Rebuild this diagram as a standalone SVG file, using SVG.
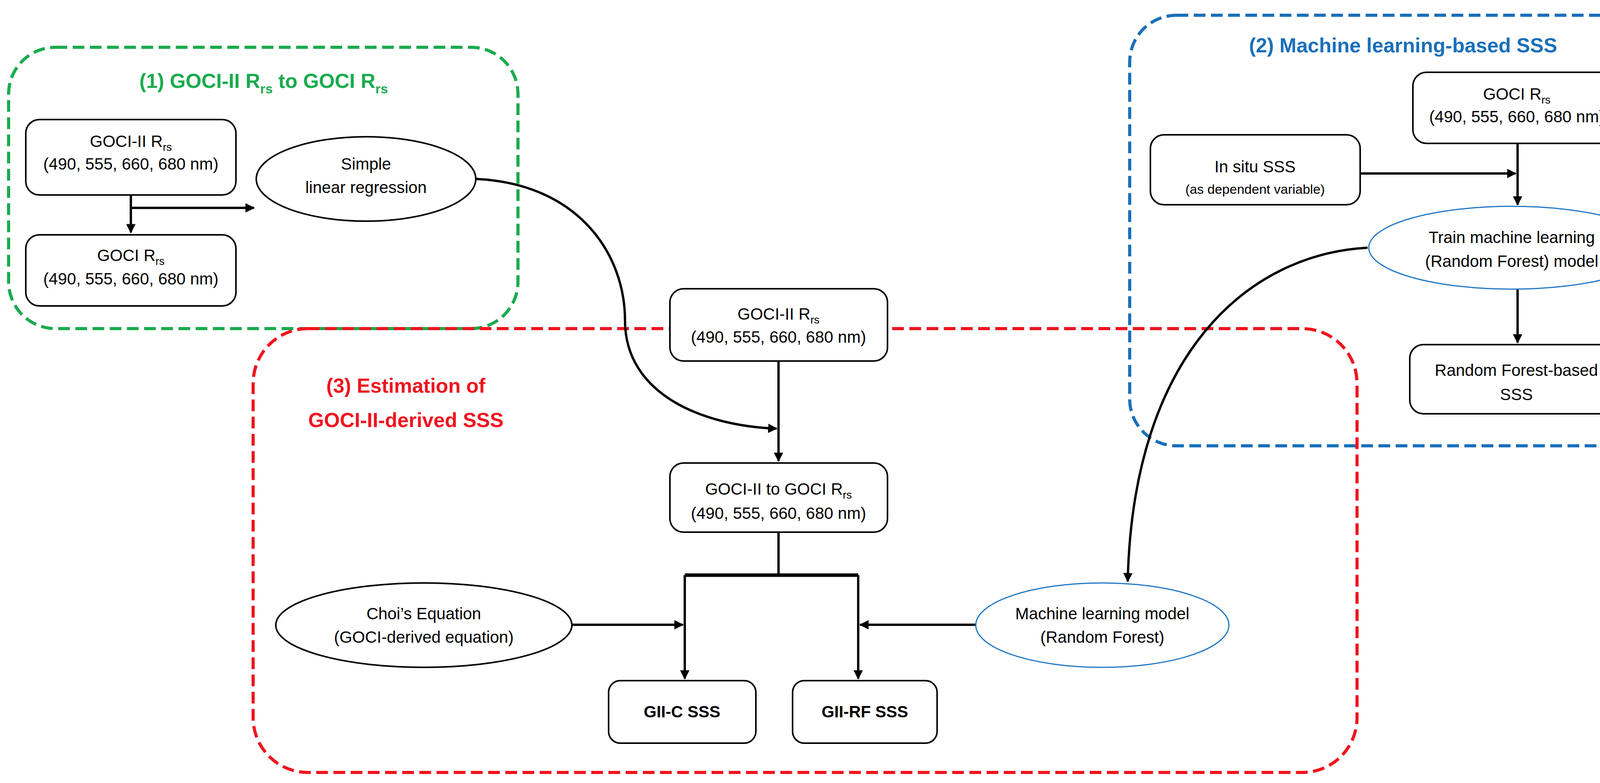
<svg xmlns="http://www.w3.org/2000/svg" width="4323" height="2004" viewBox="0 0 4323 2004">
<style>
text{font-family:"Liberation Sans",Arial,sans-serif;fill:#000;text-anchor:middle}
.t{font-size:42px}
.s{font-size:30px}
.h{font-size:52px;font-weight:bold}
.box{fill:#fff;stroke:#000;stroke-width:4}
.ell{fill:#fff;stroke:#000;stroke-width:4}
.bell{fill:#fff;stroke:#1f77c4;stroke-width:3}
.c{fill:none;stroke:#000;stroke-width:6}
.grp{fill:none;stroke-width:8;stroke-dasharray:30 14}
</style>
<defs>
<marker id="ah" viewBox="0 0 10 10" refX="9" refY="5" markerWidth="4" markerHeight="4" orient="auto" markerUnits="strokeWidth"><path d="M0,0L10,5L0,10z" fill="#000"/></marker>
</defs>
<g id="group1"><rect x="22" y="121" width="1304" height="720" rx="120" class="grp" stroke="#1aab4d"/>
<text x="675" y="225" class="h" style="fill:#1aab4d">(1) GOCI-II R<tspan font-size="34" dy="14">rs</tspan><tspan dy="-14"> to GOCI R</tspan><tspan font-size="34" dy="14">rs</tspan></text></g>
<g id="group2"><rect x="2892" y="39" width="1412" height="1102" rx="120" class="grp" stroke="#1a6fba"/>
<text x="3592" y="134" class="h" style="fill:#1a6fba">(2) Machine learning-based SSS</text></g>
<g id="group3"><rect x="648" y="841" width="2826" height="1136" rx="140" class="grp" stroke="#f0141e"/>
<text x="1039" y="1005" class="h" style="fill:#f0141e">(3) Estimation of</text>
<text x="1039" y="1093" class="h" style="fill:#f0141e">GOCI-II-derived SSS</text></g>
<g id="connectors">
<path class="c" d="M335 499V595" marker-end="url(#ah)"/>
<path class="c" d="M335 532H650" marker-end="url(#ah)"/>
<path class="c" d="M1219 458C1480 470 1600 650 1600 820C1600 1010 1800 1090 1988 1097" marker-end="url(#ah)"/>
<path class="c" d="M1993 924V1180" marker-end="url(#ah)"/>
<path class="c" d="M1993 1362V1472"/>
<path class="c" d="M1753 1472H2197" style="stroke-width:9"/>
<path class="c" d="M1753 1472V1737" marker-end="url(#ah)"/>
<path class="c" d="M2197 1472V1737" marker-end="url(#ah)"/>
<path class="c" d="M1464 1599H1748" marker-end="url(#ah)"/>
<path class="c" d="M2498 1599H2202" marker-end="url(#ah)"/>
<path class="c" d="M3501 634C3200 650 2900 900 2887 1488" marker-end="url(#ah)"/>
<path class="c" d="M3885 367V524" marker-end="url(#ah)"/>
<path class="c" d="M3482 444H3880" marker-end="url(#ah)"/>
<path class="c" d="M3885 740V877" marker-end="url(#ah)"/>
</g>
<g id="n1"><rect x="66" y="306" width="538" height="193" rx="35" class="box"/>
<text x="335" y="376" class="t">GOCI-II R<tspan font-size="28" dy="10">rs</tspan></text><text x="335" y="434" class="t">(490, 555, 660, 680 nm)</text></g>
<g id="n2"><rect x="66" y="601" width="538" height="182" rx="35" class="box"/>
<text x="335" y="668" class="t">GOCI R<tspan font-size="28" dy="10">rs</tspan></text><text x="335" y="728" class="t">(490, 555, 660, 680 nm)</text></g>
<g id="n3"><ellipse cx="937" cy="458" rx="281" ry="108" class="ell"/>
<text x="937" y="434" class="t">Simple</text><text x="937" y="494" class="t">linear regression</text></g>
<g id="n4"><rect x="1715" y="739" width="557" height="185" rx="35" class="box"/>
<text x="1993" y="818" class="t">GOCI-II R<tspan font-size="28" dy="10">rs</tspan></text><text x="1993" y="877" class="t">(490, 555, 660, 680 nm)</text></g>
<g id="n5"><rect x="1715" y="1185" width="557" height="177" rx="35" class="box"/>
<text x="1993" y="1266" class="t">GOCI-II to GOCI R<tspan font-size="28" dy="10">rs</tspan></text><text x="1993" y="1328" class="t">(490, 555, 660, 680 nm)</text></g>
<g id="n6"><ellipse cx="1085" cy="1600" rx="379" ry="108" class="ell"/>
<text x="1085" y="1585" class="t">Choi’s Equation</text><text x="1085" y="1645" class="t">(GOCI-derived equation)</text></g>
<g id="n7"><ellipse cx="2822" cy="1600" rx="324" ry="108" class="bell"/>
<text x="2822" y="1585" class="t">Machine learning model</text><text x="2822" y="1645" class="t">(Random Forest)</text></g>
<g id="n8"><rect x="1558" y="1742" width="377" height="160" rx="30" class="box"/>
<text x="1746" y="1836" class="t" font-weight="bold">GII-C SSS</text></g>
<g id="n9"><rect x="2029" y="1742" width="370" height="160" rx="30" class="box"/>
<text x="2214" y="1836" class="t" font-weight="bold">GII-RF SSS</text></g>
<g id="n10"><rect x="3617" y="185" width="532" height="182" rx="35" class="box"/>
<text x="3883" y="255" class="t">GOCI R<tspan font-size="28" dy="10">rs</tspan></text><text x="3883" y="313" class="t">(490, 555, 660, 680 nm)</text></g>
<g id="n11"><rect x="2945" y="345" width="537" height="179" rx="35" class="box"/>
<text x="3213" y="441" class="t">In situ SSS</text><text x="3213" y="496" style="font-size:34px">(as dependent variable)</text></g>
<g id="n12"><ellipse cx="3870" cy="634" rx="366" ry="106" class="bell"/>
<text x="3870" y="622" class="t">Train machine learning</text><text x="3870" y="683" class="t">(Random Forest) model</text></g>
<g id="n13"><rect x="3609" y="882" width="546" height="177" rx="35" class="box"/>
<text x="3882" y="962" class="t">Random Forest-based</text><text x="3882" y="1024" class="t">SSS</text></g>
</svg>
